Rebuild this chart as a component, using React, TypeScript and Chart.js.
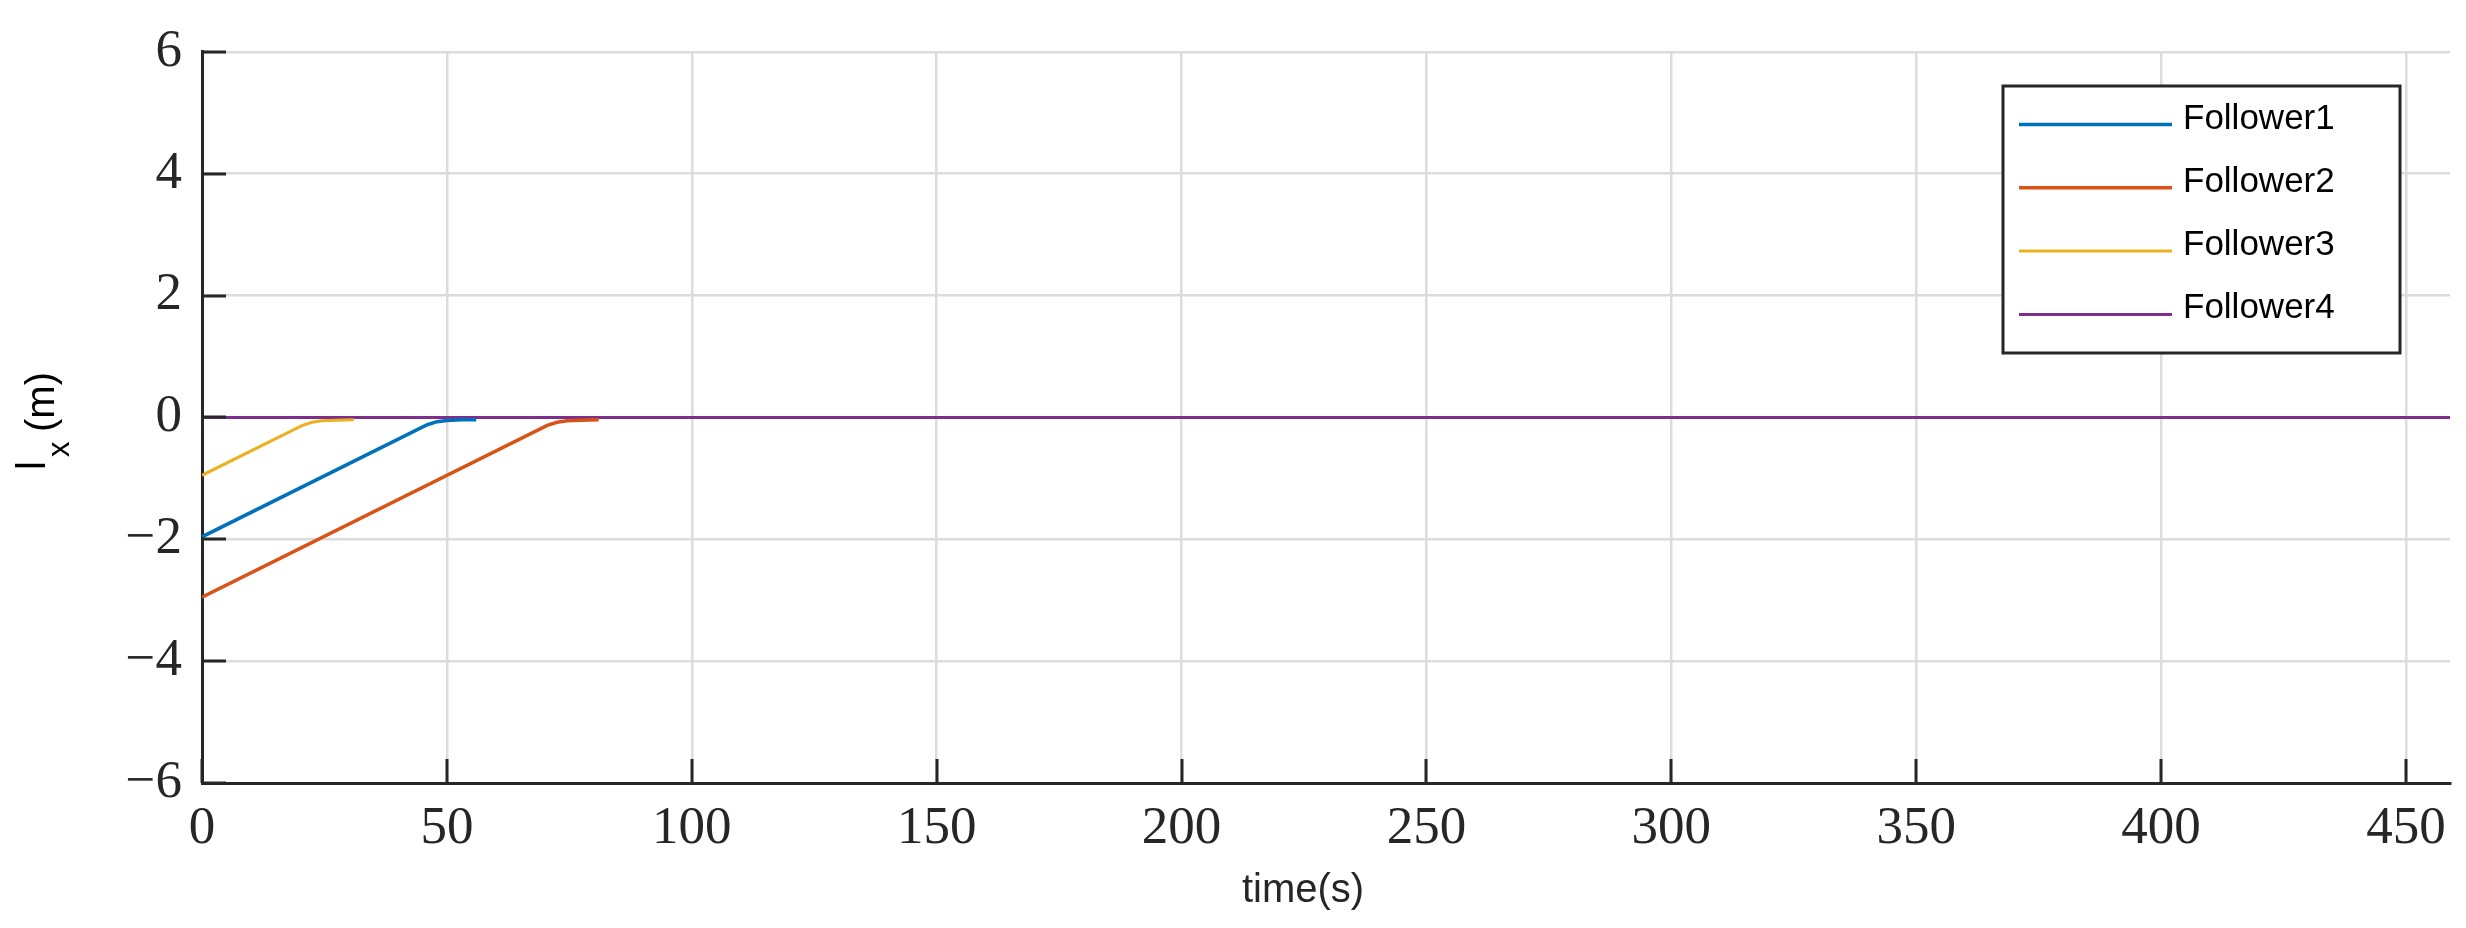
import { useEffect, useRef } from "react";
import { Chart, registerables } from "chart.js";

Chart.register(...registerables);

const seriesNames = ["Follower1", "Follower2", "Follower3", "Follower4"];
const seriesColors = ["#0072BD", "#D95319", "#EDB120", "#7E2F8E"];
const seriesWidths = [3.5, 3.5, 3, 3];

const follower1Time = [0, 46, 48, 50, 53, 56];
const follower1Lx = [-1.96, -0.12, -0.07, -0.05, -0.04, -0.04];
const follower2Time = [0, 70.5, 72.5, 74.5, 77.5, 81];
const follower2Lx = [-2.95, -0.13, -0.08, -0.055, -0.045, -0.04];
const follower3Time = [0, 20.5, 22.5, 24.5, 27.5, 31];
const follower3Lx = [-0.95, -0.13, -0.08, -0.055, -0.045, -0.04];
const follower4Time = [0, 459];
const follower4Lx = [0, 0];

const xTickValues = [0, 50, 100, 150, 200, 250, 300, 350, 400, 450];
const yTickValues = [-6, -4, -2, 0, 2, 4, 6];
const xMin = 0;
const xMax = 459;
const yMin = -6;
const yMax = 6;

const xTitle = "time(s)";
const yTitleMain = "l";
const yTitleSub = "x";
const yTitleUnit = "(m)";

const AXIS_COLOR = "#262626";
const GRID_COLOR = "#dcdcdc";

function toPoints(t: number[], v: number[]) {
  return t.map((x, i) => ({ x, y: v[i] }));
}

function fmt(v: number) {
  return v < 0 ? "\u2212" + Math.abs(v) : String(v);
}

const decorPlugin = {
  id: "decor",
  afterDraw(chart: any) {
    const ctx = chart.ctx as CanvasRenderingContext2D;
    const area = chart.chartArea;
    const xs = chart.scales.x;
    const ys = chart.scales.y;
    ctx.save();
    // inward tick marks
    ctx.strokeStyle = AXIS_COLOR;
    ctx.lineWidth = 3;
    ctx.beginPath();
    xTickValues.forEach((v) => {
      const px = Math.round(xs.getPixelForValue(v));
      ctx.moveTo(px, area.bottom);
      ctx.lineTo(px, area.bottom - 24);
    });
    yTickValues.forEach((v) => {
      const py = Math.round(ys.getPixelForValue(v));
      ctx.moveTo(area.left, py);
      ctx.lineTo(area.left + 24, py);
    });
    ctx.stroke();

    // x title
    ctx.fillStyle = AXIS_COLOR;
    ctx.font = '40px "Liberation Sans", Arial, sans-serif';
    ctx.textAlign = "center";
    ctx.textBaseline = "alphabetic";
    ctx.fillText(xTitle, (area.left + area.right) / 2 - 23, 902);

    // y title (rotated)
    ctx.save();
    ctx.rotate(-Math.PI / 2);
    ctx.textAlign = "left";
    ctx.fillStyle = "#000";
    ctx.font = '40px "Liberation Sans", Arial, sans-serif';
    ctx.fillText(yTitleMain, -470, 45);
    ctx.font = '31px "Liberation Sans", Arial, sans-serif';
    ctx.fillText(yTitleSub, -457, 69);
    ctx.font = '40px "Liberation Sans", Arial, sans-serif';
    ctx.fillText(yTitleUnit, -432, 54);
    ctx.restore();

    // legend
    const bx = 2003, by = 86, bw = 397, bh = 267;
    ctx.fillStyle = "#ffffff";
    ctx.fillRect(bx, by, bw, bh);
    ctx.strokeStyle = AXIS_COLOR;
    ctx.lineWidth = 3;
    ctx.strokeRect(bx, by, bw, bh);
    ctx.font = '35px "Liberation Sans", Arial, sans-serif';
    ctx.textAlign = "left";
    ctx.textBaseline = "alphabetic";
    chart.data.datasets.forEach((ds: any, i: number) => {
      const ly = 124.5 + i * 63.3;
      ctx.strokeStyle = ds.borderColor;
      ctx.lineWidth = ds.borderWidth;
      ctx.beginPath();
      ctx.moveTo(2019, ly);
      ctx.lineTo(2172, ly);
      ctx.stroke();
      ctx.fillStyle = "#000";
      ctx.fillText(ds.label, 2183, ly + 4);
    });
    ctx.restore();
  },
};

export default function App() {
  const ref = useRef<HTMLCanvasElement | null>(null);
  useEffect(() => {
    if (!ref.current) return;
    const seriesData = [
      toPoints(follower1Time, follower1Lx),
      toPoints(follower2Time, follower2Lx),
      toPoints(follower3Time, follower3Lx),
      toPoints(follower4Time, follower4Lx),
    ];
    const tickFont = { family: '"Liberation Serif", "Times New Roman", serif', size: 53 };
    const chart = new Chart(ref.current, {
      type: "line",
      data: {
        datasets: seriesNames.map((name, i) => ({
          label: name,
          data: seriesData[i],
          borderColor: seriesColors[i],
          backgroundColor: seriesColors[i],
          borderWidth: seriesWidths[i],
          pointRadius: 0,
          tension: 0,
          fill: false,
        })),
      },
      options: {
        responsive: false,
        animation: false,
        events: [],
        layout: { padding: { top: 38, right: 16, left: 0, bottom: 0 } },
        plugins: {
          legend: { display: false },
          tooltip: { enabled: false },
          title: { display: false },
        },
        scales: {
          x: {
            type: "linear",
            min: xMin,
            max: xMax,
            afterFit: (s: any) => {
              s.height = 145;
            },
            afterBuildTicks: (s: any) => {
              s.ticks = xTickValues.map((v) => ({ value: v }));
            },
            grid: { color: GRID_COLOR, lineWidth: 2.5, drawTicks: false },
            border: { color: AXIS_COLOR, width: 3 },
            ticks: {
              padding: 14,
              color: AXIS_COLOR,
              font: tickFont,
              maxRotation: 0,
              autoSkip: false,
              callback: (v: any) => fmt(Number(v)),
            },
          },
          y: {
            type: "linear",
            min: yMin,
            max: yMax,
            afterFit: (s: any) => {
              s.width = 202;
            },
            afterBuildTicks: (s: any) => {
              s.ticks = yTickValues.map((v) => ({ value: v }));
            },
            grid: { color: GRID_COLOR, lineWidth: 2.5, drawTicks: false },
            border: { color: AXIS_COLOR, width: 3 },
            ticks: {
              padding: 20,
              color: AXIS_COLOR,
              font: tickFont,
              autoSkip: false,
              callback: (v: any) => fmt(Number(v)),
            },
          },
        },
      },
      plugins: [decorPlugin],
    } as any);
    return () => chart.destroy();
  }, []);
  return (
    <div style={{ position: "absolute", left: 0, top: 0, width: 2466, height: 928, background: "#fff" }}>
      <canvas ref={ref} width={2466} height={928} style={{ display: "block" }} />
    </div>
  );
}
